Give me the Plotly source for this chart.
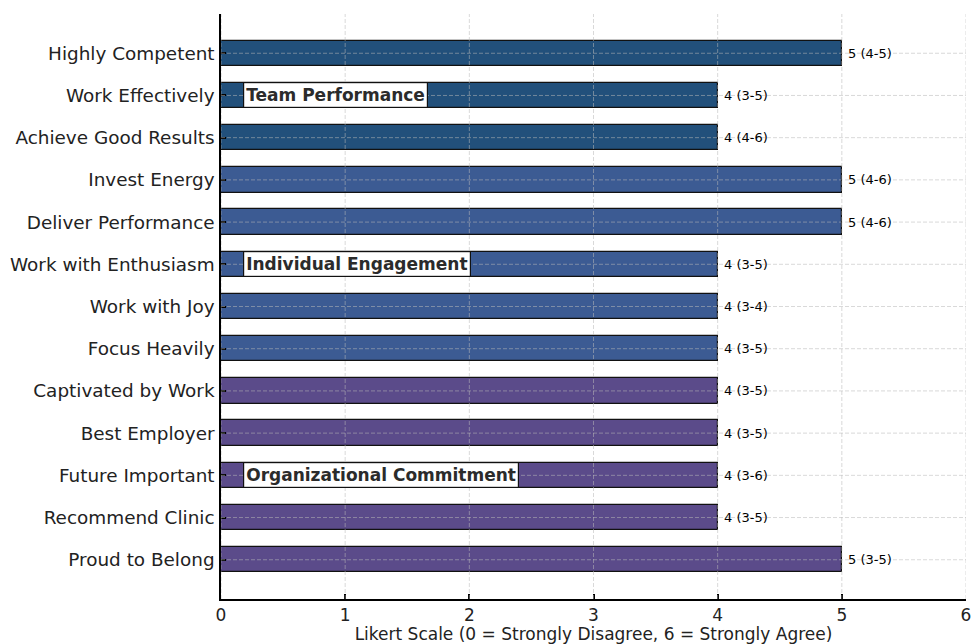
import plotly.graph_objects as go

categories = ["Highly Competent", "Work Effectively", "Achieve Good Results",
              "Invest Energy", "Deliver Performance", "Work with Enthusiasm",
              "Work with Joy", "Focus Heavily", "Captivated by Work",
              "Best Employer", "Future Important", "Recommend Clinic", "Proud to Belong"]
medians = [5, 4, 4, 5, 5, 4, 4, 4, 4, 4, 4, 4, 5]
ranges = ["4-5", "3-5", "4-6", "4-6", "4-6", "3-5", "3-4", "3-5", "3-5", "3-5", "3-6", "3-5", "3-5"]
groups = ["Team Performance"] * 3 + ["Individual Engagement"] * 5 + ["Organizational Commitment"] * 5
group_label_rows = {"Team Performance": "Work Effectively",
                    "Individual Engagement": "Work with Enthusiasm",
                    "Organizational Commitment": "Future Important"}
group_colors = {"Team Performance": "#22507b",
                "Individual Engagement": "#3c5b93",
                "Organizational Commitment": "#5b4b8a"}
x_ticks = [0, 1, 2, 3, 4, 5, 6]
x_title = "Likert Scale (0 = Strongly Disagree, 6 = Strongly Agree)"

FONT = "DejaVu Sans"
TXT = "#222222"

fig = go.Figure()
fig.add_trace(go.Bar(
    x=medians, y=categories, orientation="h", width=0.6,
    marker=dict(color=[group_colors[g] for g in groups],
                line=dict(color="#111111", width=1.2)),
    hoverinfo="skip", showlegend=False,
))

# value labels
for c, m, r in zip(categories, medians, ranges):
    fig.add_annotation(x=m, y=c, text=f"{m} ({r})", showarrow=False,
                       xanchor="left", xshift=4, font=dict(family=FONT, size=13, color="black"))

# group labels
for g, row in group_label_rows.items():
    fig.add_annotation(x=0.18, y=row, text=f"<b>{g}</b>", showarrow=False,
                       xanchor="left", font=dict(family=FONT, size=17, color="#2b2b2b"),
                       bgcolor="white", bordercolor="#111111", borderwidth=1.2, borderpad=2)

# gridlines drawn above bars
grid_style = dict(color="rgba(185,185,185,0.6)", width=0.9, dash="4px,2px")
for t in x_ticks:
    fig.add_shape(type="line", xref="x", yref="paper", x0=t, x1=t, y0=0, y1=1,
                  line=grid_style, layer="above")
for c in categories:
    fig.add_shape(type="line", xref="x", yref="y", x0=0, x1=6, y0=c, y1=c,
                  line=grid_style, layer="above")

n = len(categories)
fig.update_layout(
    width=971, height=644,
    margin=dict(l=221, r=5, t=14, b=45, autoexpand=False),
    plot_bgcolor="white", paper_bgcolor="white",
    font=dict(family=FONT, color=TXT),
    bargap=0,
    xaxis=dict(range=[0, 6], tickvals=x_ticks, showgrid=False, zeroline=False,
               showline=True, linecolor="black", linewidth=1.5,
               ticks="inside", ticklen=5, tickwidth=1.5, tickcolor="black",
               ticklabeloverflow="allow", automargin=False,
               tickfont=dict(size=17, color=TXT),
               title=dict(text=x_title, font=dict(size=17, color=TXT), standoff=4)),
    yaxis=dict(type="category", categoryorder="array", categoryarray=categories,
               range=[n - 1 + 0.93, -0.93], showgrid=False, zeroline=False,
               showline=True, linecolor="black", linewidth=1.5,
               ticks="inside", ticklen=5, tickwidth=1.5, tickcolor="black",
               automargin=False,
               tickfont=dict(size=18.4, color=TXT), ticklabelstandoff=1),
)

fig.write_html("out.html")
